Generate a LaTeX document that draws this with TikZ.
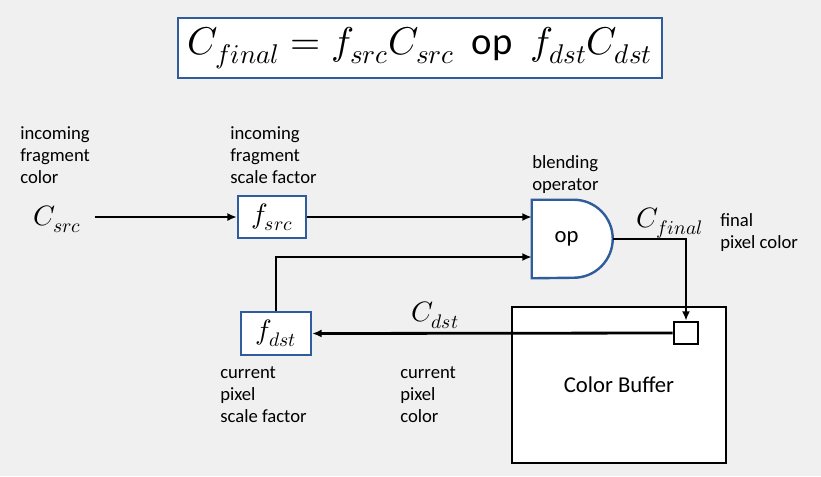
\documentclass[tikz,border=0pt]{standalone}
\usepackage{amsmath}
\usepackage{fontspec}
\usepackage{unicode-math}
\setmainfont{Carlito}
\setmathfont{Latin Modern Math}
\usepackage{xcolor}
\usepackage{tikz}
\usetikzlibrary{arrows.meta}

\definecolor{boxblue}{HTML}{2E5C9C}
\definecolor{slidegray}{HTML}{F0F0F0}

\begin{document}
\begin{tikzpicture}[
    x=0.75pt, y=-0.75pt,
    factor/.style={rectangle, draw=boxblue, line width=1.8pt, fill=white, inner sep=0pt, font=\fontsize{21}{21}\selectfont},
    buffer/.style={rectangle, draw, line width=2pt, fill=white, inner sep=0pt},
    gate/.style={draw=boxblue, line width=1.8pt, fill=white},
    note/.style={align=left, inner sep=0pt, anchor=north west, font=\fontsize{14}{16.5}\selectfont},
    symb/.style={inner sep=0pt, font=\fontsize{21}{21}\selectfont},
    arrow/.style={-{Latex[length=7pt, width=6pt]}, line width=2.1pt},
]

% slide background
\fill[slidegray] (0,0) rectangle (821,476);

% Equation
\node[factor, minimum width=363pt, minimum height=45pt, font=\fontsize{29}{29}\selectfont] (formula) at (420,48)
    {$C_{final} = f_{src}C_{src}\ \ \text{op}\ \ f_{dst}C_{dst}$};

% Source side
\node[symb] (csrc) at (57,219) {$C_{src}$};
\node[factor, minimum width=51pt, minimum height=31.5pt] (fsrc) at (272,217) {$f_{src}$};

% Blending operator
\node[minimum width=60.75pt, minimum height=58.5pt, inner sep=0pt] (op) at (572.5,239) {};
\draw[gate] (op.north west) -- ++(42,0) arc[start angle=90, end angle=-90, radius=29.25pt] -- (op.south west) -- cycle;
\node[font=\fontsize{17}{17}\selectfont] (optext) at ([xshift=-4.5pt]op.center) {op};

% Destination side
\node[buffer, minimum width=160.5pt, minimum height=117pt, font=\fontsize{17}{17}\selectfont] (cbuf) at (619,385) {Color Buffer};
\node[buffer, minimum width=18pt, minimum height=16.5pt] (pixel) at (686,333) {};
\node[factor, minimum width=52.5pt, minimum height=32.25pt] (fdst) at (276,333.5) {$f_{dst}$};

% Symbol labels
\node[symb] (cfinal) at (670,223) {$C_{final}$};
\node[symb] (cdst) at (435,315) {$C_{dst}$};

% Notes
\node[note] (nsrc) at (20,126) {incoming\\fragment\\color};
\node[note] (nfsrc) at (230,126) {incoming\\fragment\\scale factor};
\node[note] (nop) at (532,155) {blending\\operator};
\node[note] (nfinal) at (720,213) {final\\pixel color};
\node[note] (nfdst) at (220,366) {current\\pixel\\scale factor};
\node[note] (ndst) at (400,366) {current\\pixel\\color};

% Arrows
\draw[arrow, shorten <=10pt] (csrc.east |- fsrc) -- (fsrc.west);
\draw[arrow] (fsrc.east) -- (fsrc.east -| op.west);
\draw[arrow] (fdst.north) |- ([yshift=-13.5pt]op.west);
\draw[arrow] (op.east) -| (pixel.north);
\draw[arrow] (pixel.west) -- (fdst.east);

\end{tikzpicture}
\end{document}
